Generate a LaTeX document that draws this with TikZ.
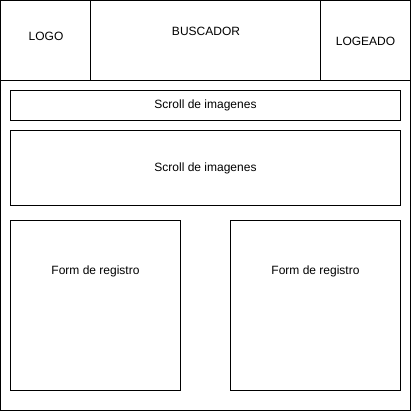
\documentclass[tikz,border=0pt]{standalone}
\usepackage{fontspec}
\setmainfont{Liberation Sans}
\begin{document}
\begin{tikzpicture}[x=1pt,y=-1pt,
  frame/.style={draw=black,line width=1pt,fill=white},
  label/.style={font=\fontsize{12}{14}\selectfont,inner sep=0pt,anchor=center}]
\useasboundingbox[fill=white] (-0.5,-0.5) rectangle (410.5,410.5);
% page frame and header
\draw[frame] (0,0) rectangle (410,410);
\draw[frame] (0,0) rectangle (410,80);
\draw[black,line width=1pt] (90,0) -- (90,80);
\draw[black,line width=1pt] (320,0) -- (320,80);
\node[label] (logo) at (45.5,35.5) {LOGO};
\node[label] (buscador) at (205.5,30.5) {BUSCADOR};
\node[label] (logeado) at (365,41) {LOGEADO};
% image strips
\draw[frame] (10,90) rectangle (400,120);
\node[label] (scrollA) at (205,105) {Scroll de imagenes};
\draw[frame] (10,130) rectangle (400,205);
\node[label] (scrollB) at (205,168) {Scroll de imagenes};
% registration forms
\draw[frame] (10,220) rectangle (180,390);
\node[label] (formA) at (95,270.5) {Form de registro};
\draw[frame] (230,220) rectangle (400,390);
\node[label] (formB) at (315,270.5) {Form de registro};
\end{tikzpicture}
\end{document}
